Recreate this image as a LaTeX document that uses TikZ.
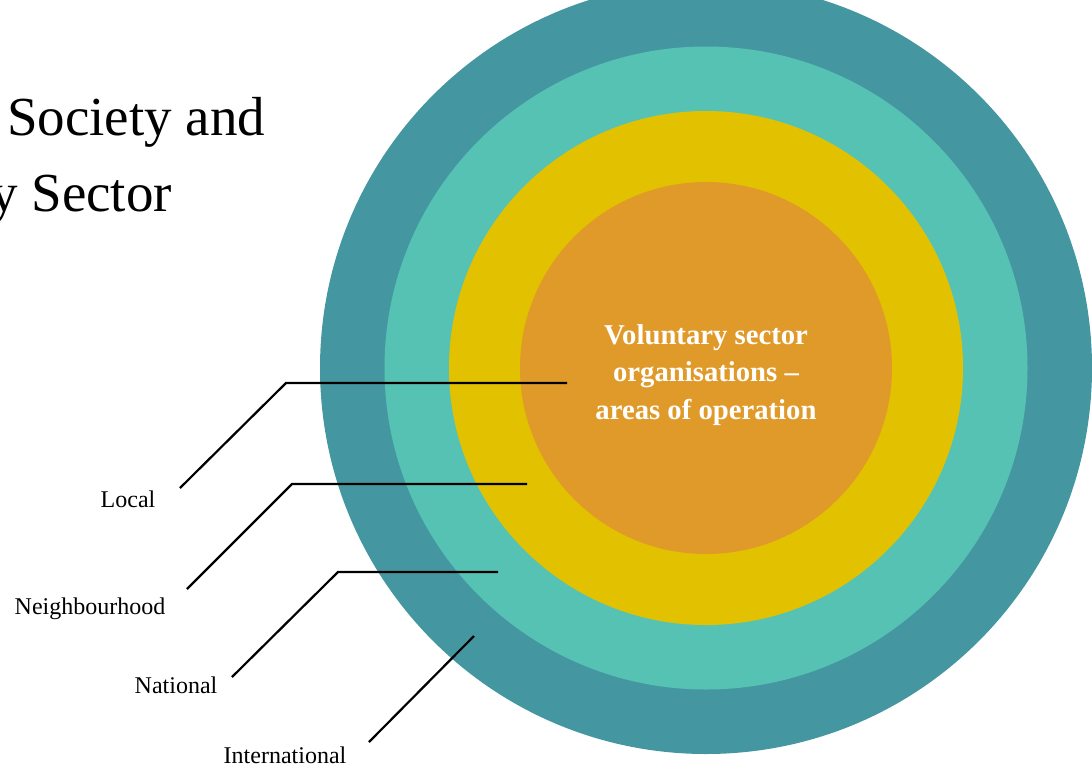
\documentclass[tikz,border=0pt]{standalone}
\usepackage{fontspec}
\setmainfont{Liberation Serif}
\definecolor{ringouter}{HTML}{4497A0}
\definecolor{ringsecond}{HTML}{56C2B4}
\definecolor{ringthird}{HTML}{E2C200}
\definecolor{ringcore}{HTML}{E09A2A}
\tikzset{
  ring/.style={circle, draw=none, inner sep=0pt},
  leader/.style={draw=black, line width=2.2pt, line join=miter},
  levellabel/.style={anchor=base, inner sep=0pt, font=\fontsize{24}{28}\selectfont},
  titletext/.style={anchor=base west, inner sep=0pt, font=\fontsize{55}{66}\selectfont},
  coretext/.style={align=center, text=white, inner sep=0pt,
    font=\fontsize{28.7}{37.5}\selectfont\bfseries}
}
\begin{document}
\begin{tikzpicture}[x=1pt, y=-1pt]
  \useasboundingbox (0,0) rectangle (1092,769);
  \clip (0,0) rectangle (1092,769);

  % concentric rings of operation
  \node[ring, fill=ringouter,  minimum size=772pt] (outer)  at (706,368) {};
  \node[ring, fill=ringsecond, minimum size=643pt] (second) at (706,368) {};
  \node[ring, fill=ringthird,  minimum size=514pt] (third)  at (706,368) {};
  \node[ring, fill=ringcore,   minimum size=372pt] (core)   at (706,368) {};

  \node[coretext] (coretxt) at (706,375)
    {Voluntary sector\\organisations –\\areas of operation};

  % heading
  \node[titletext] (title1) at (7,135) {Society and};
  \node[titletext] (title2) at (-10,211) {y Sector};

  % level labels
  \node[levellabel] (local)  at (128,507) {Local};
  \node[levellabel] (neigh)  at (90,614)  {Neighbourhood};
  \node[levellabel] (nation) at (176,693) {National};
  \node[levellabel] (inter)  at (285,763) {International};

  % leader line end points
  \coordinate (localA) at (180,488);
  \coordinate (localB) at (286,383);
  \coordinate (localC) at (567,383);
  \coordinate (neighA) at (187,589);
  \coordinate (neighB) at (292,484);
  \coordinate (neighC) at (527,484);
  \coordinate (nationA) at (232,677);
  \coordinate (nationB) at (338,572);
  \coordinate (nationC) at (498,572);
  \coordinate (interA) at (369,742);
  \coordinate (interB) at (474,636);

  \draw[leader] (localA) -- (localB) -- (localC);
  \draw[leader] (neighA) -- (neighB) -- (neighC);
  \draw[leader] (nationA) -- (nationB) -- (nationC);
  \draw[leader] (interA) -- (interB);
\end{tikzpicture}
\end{document}
